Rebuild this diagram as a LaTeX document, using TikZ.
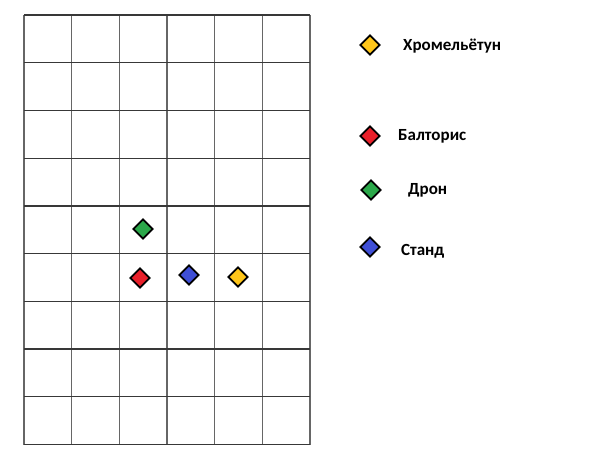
\documentclass[tikz,border=0pt]{standalone}
\usepackage{fontspec}
\setmainfont{Carlito}
\usetikzlibrary{shapes.geometric}
\definecolor{myyellow}{HTML}{FFC61A}
\definecolor{myred}{HTML}{E8202A}
\definecolor{mygreen}{HTML}{2BA84A}
\definecolor{myblue}{HTML}{3F4FD6}
\tikzset{
  gem/.style={diamond, draw=black, line width=1.8pt, inner sep=0pt, minimum width=20pt, minimum height=20pt},
  legtext/.style={anchor=west, font=\bfseries\fontsize{17}{20}\selectfont, inner sep=0pt},
  gridv/.style={draw=black!60, line width=1.6pt},
  gridh/.style={draw=black!78, line width=1.3pt}
}
\begin{document}
\begin{tikzpicture}[x=1pt,y=-1pt]
\useasboundingbox (0,0) rectangle (600,460);
\fill[white] (0,0) rectangle (600,460);
% grid
\foreach \i in {0,...,6} {
  \draw[gridv] ({24+\i*47.67},15) -- ({24+\i*47.67},444.5);
}
\foreach \j in {0,...,9} {
  \draw[gridh] (24,{15+\j*47.72}) -- (310,{15+\j*47.72});
}
% markers on grid
\node[gem, fill=mygreen] (g1) at (143,229) {};
\node[gem, fill=myred] (r1) at (140,278) {};
\node[gem, fill=myblue] (b1) at (189,275) {};
\node[gem, fill=myyellow] (y1) at (238,277) {};
% legend
\node[gem, fill=myyellow] (ly) at (370,45) {};
\node[legtext] (ty) at (403,46) {Хромельётун};
\node[gem, fill=myred] (lr) at (370,136) {};
\node[legtext] (tr) at (398,136) {Балторис};
\node[gem, fill=mygreen] (lg) at (371,190) {};
\node[legtext] (tg) at (408,190) {Дрон};
\node[gem, fill=myblue] (lb) at (370,247) {};
\node[legtext] (tb) at (401,251) {Станд};
\end{tikzpicture}
\end{document}
